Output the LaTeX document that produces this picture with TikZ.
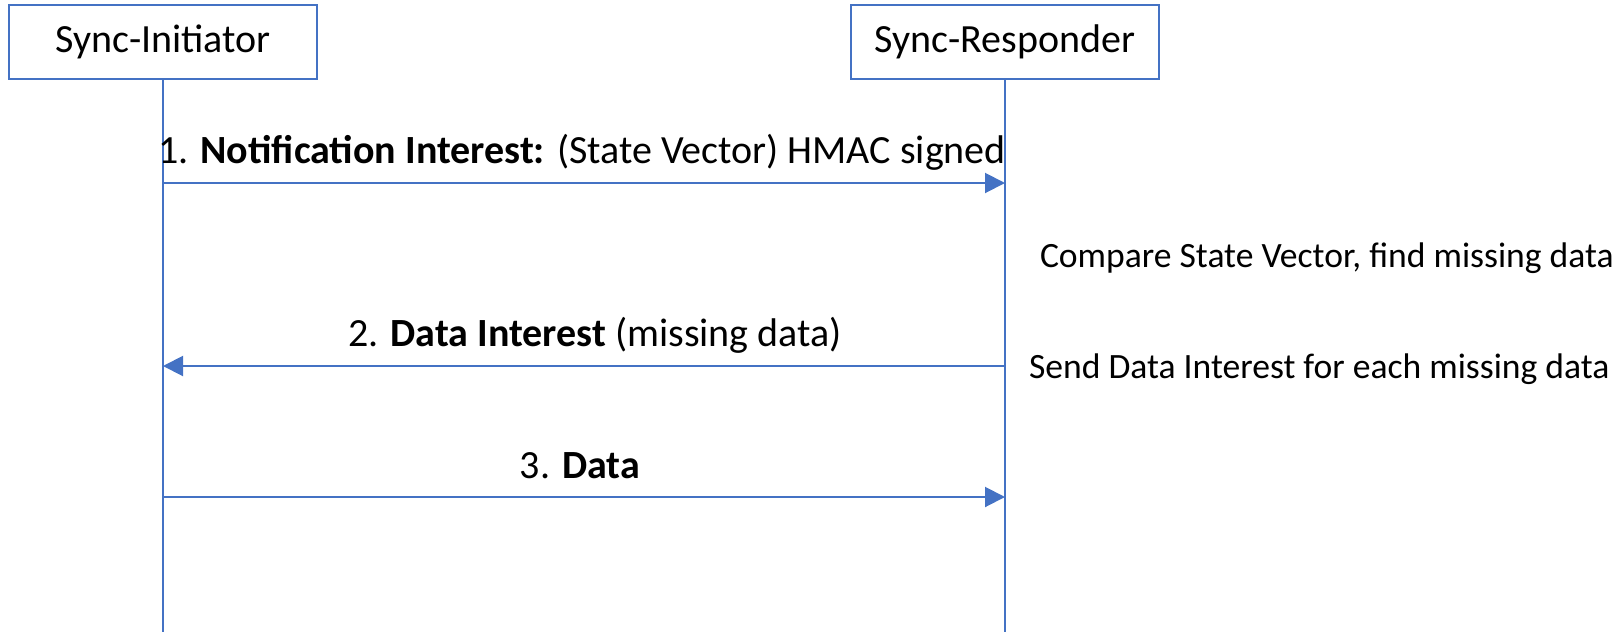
\documentclass[tikz,border=0pt]{standalone}
\usepackage{fontspec}
\setmainfont{Carlito}
\usetikzlibrary{arrows.meta}

\definecolor{lineblue}{RGB}{68,114,196}

\tikzset{every picture/.style={line width=1pt}}
\tikzset{
  actor/.style={draw=lineblue, fill=white, minimum width=154pt, minimum height=37pt, inner sep=0pt, font=\fontsize{20}{24}\selectfont},
  lifeline/.style={draw=lineblue},
  msg/.style={draw=lineblue, -{Triangle[length=10pt,width=10pt]}, lineblue},
  label/.style={inner sep=0pt, font=\fontsize{20}{24}\selectfont},
  note/.style={inner sep=0pt, anchor=west, font=\fontsize{17.8}{22}\selectfont}
}

\begin{document}
\begin{tikzpicture}[x=0.5pt,y=0.5pt,yscale=-1]
\useasboundingbox (0,0) rectangle (1624,632);

%Lifelines
\coordinate (initbot) at (163,632);
\coordinate (respbot) at (1005,632);
\draw [lifeline] (163,42) -- (initbot);
\draw [lifeline] (1005,42) -- (respbot);

%Actor boxes
\node [actor] (init) at (163,42) {Sync-Initiator};
\node [actor] (resp) at (1005,42) {Sync-Responder};

%Message points on the lifelines
\coordinate (i1) at (163,183);
\coordinate (r1) at (1005,183);
\coordinate (i2) at (163,366);
\coordinate (r2) at (1005,366);
\coordinate (i3) at (163,497);
\coordinate (r3) at (1005,497);

%Messages
\draw [msg] (i1) -- (r1);
\draw [msg] (r2) -- (i2);
\draw [msg] (i3) -- (r3);

% Text Node
\node [label] (lbl1) at (582,152) {1. \textbf{Notification Interest:} (State Vector) HMAC signed};
% Text Node
\node [label] (lbl2) at (595,335) {2. \textbf{Data Interest} (missing data)};
% Text Node
\node [label] (lbl3) at (580,466) {3. \textbf{Data}};
% Text Node
\node [note] (cmp) at (1039,258) {Compare State Vector, find missing data};
% Text Node
\node [note] (send) at (1028,369) {Send Data Interest for each missing data};

\end{tikzpicture}
\end{document}
